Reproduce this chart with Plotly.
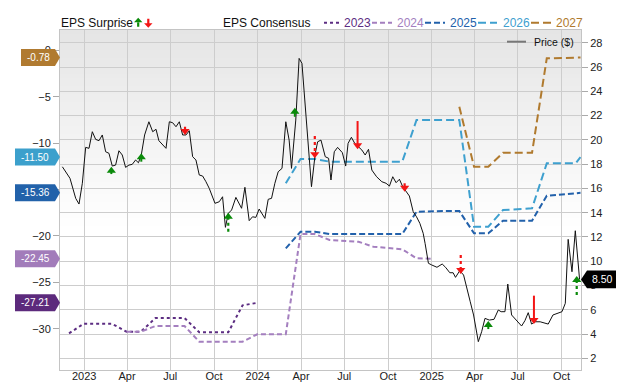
import plotly.graph_objects as go

# ---------------- data ----------------
price_dates = [
    "2022-11-16", "2022-12-02", "2022-12-14", "2022-12-21", "2022-12-28",
    "2023-01-04", "2023-01-11", "2023-01-18", "2023-01-25", "2023-02-01", "2023-02-08",
    "2023-02-15", "2023-02-22", "2023-03-01", "2023-03-08", "2023-03-15", "2023-03-22",
    "2023-03-29", "2023-04-05", "2023-04-12", "2023-04-19", "2023-04-25", "2023-05-01",
    "2023-05-08", "2023-05-17", "2023-05-25", "2023-06-01", "2023-06-07", "2023-06-22",
    "2023-06-29", "2023-07-06", "2023-07-13", "2023-07-20", "2023-07-27", "2023-08-03",
    "2023-08-10", "2023-08-17", "2023-08-24", "2023-08-31", "2023-09-07", "2023-09-14",
    "2023-09-21", "2023-10-03", "2023-10-12", "2023-10-19", "2023-10-25", "2023-10-31",
    "2023-11-07", "2023-11-16", "2023-11-28", "2023-12-05", "2023-12-14", "2023-12-21",
    "2023-12-28", "2024-01-04", "2024-01-16", "2024-01-23", "2024-01-30", "2024-02-06",
    "2024-02-13", "2024-02-21", "2024-02-29", "2024-03-07", "2024-03-12", "2024-03-21",
    "2024-03-28", "2024-04-03", "2024-04-12", "2024-04-23", "2024-05-01", "2024-05-06",
    "2024-05-13", "2024-05-22", "2024-05-29", "2024-06-03", "2024-06-10", "2024-06-17",
    "2024-06-27", "2024-07-04", "2024-07-09", "2024-07-16", "2024-07-23", "2024-07-30",
    "2024-08-07", "2024-08-14", "2024-08-21", "2024-08-28", "2024-09-07", "2024-09-18",
    "2024-09-27", "2024-10-04", "2024-10-11", "2024-10-18", "2024-10-25", "2024-11-01",
    "2024-11-08", "2024-11-15", "2024-11-23", "2024-11-30", "2024-12-07", "2024-12-14",
    "2024-12-18", "2024-12-25", "2025-01-01", "2025-01-12", "2025-01-23", "2025-01-30",
    "2025-02-08", "2025-02-15", "2025-02-20", "2025-03-01", "2025-03-09", "2025-03-16",
    "2025-03-23", "2025-03-30", "2025-04-09", "2025-04-16", "2025-04-23", "2025-05-02",
    "2025-05-12", "2025-05-21", "2025-05-27", "2025-06-04", "2025-06-10", "2025-06-18",
    "2025-06-27", "2025-07-09", "2025-07-16", "2025-07-23", "2025-07-30", "2025-08-06",
    "2025-08-17", "2025-08-25", "2025-09-03", "2025-09-13", "2025-09-21", "2025-10-02",
    "2025-10-09", "2025-10-15", "2025-10-23", "2025-10-30", "2025-11-08",
]
price_values = [
    17.78, 16.83, 15.18, 14.71, 16.42,
    19.38, 19.30, 20.67, 20.04, 19.93, 20.40,
    19.02, 18.89, 17.84, 17.92, 19.10, 18.75,
    17.73, 17.92, 17.98, 18.34, 18.11, 18.75,
    20.40, 21.49, 20.67, 20.87, 19.93, 19.30,
    21.49, 21.41, 21.08, 21.49, 20.40, 20.40,
    20.75, 18.61, 18.34, 17.10, 17.02, 16.55,
    16.00, 14.77, 14.90, 15.31, 12.79, 13.94,
    14.22, 15.26, 14.36, 16.09, 13.34, 13.66,
    13.61, 14.30, 13.53, 15.10, 15.18, 16.42,
    17.37, 17.65, 21.49, 19.98, 17.65, 21.63,
    26.71, 26.30, 21.63, 16.14, 18.89, 19.84,
    19.98, 18.61, 18.48, 16.69, 19.02, 19.38,
    18.94, 17.84, 19.71, 20.21, 19.71, 19.43,
    19.16, 18.75, 19.22, 17.51, 16.96, 16.55,
    16.42, 16.19, 16.96, 16.47, 16.75, 16.14,
    15.72, 15.37, 14.08, 13.66, 13.12, 12.30,
    11.47, 9.83, 9.69, 9.50, 9.77, 9.50,
    9.05, 9.05, 8.67, 9.22, 8.86, 7.63,
    6.66, 5.57, 3.37, 4.19, 5.29, 5.15,
    5.21, 5.98, 5.84, 5.84, 8.12, 5.57,
    5.21, 4.66, 5.10, 5.76, 4.82, 5.01,
    5.01, 4.93, 4.82, 5.57, 5.71, 5.84,
    6.53, 11.80, 9.13, 12.51, 8.50,
]

cons2023_dates = ["2022-11-30", "2022-12-31", "2023-01-31", "2023-02-28", "2023-03-31",
                  "2023-04-30", "2023-05-31", "2023-06-30", "2023-07-31", "2023-08-31",
                  "2023-09-30", "2023-10-31", "2023-11-30", "2023-12-31"]
cons2023 = [-30.50, -29.46, -29.46, -29.46, -30.32, -30.32, -28.85, -28.85, -28.85,
            -30.39, -30.39, -30.39, -27.48, -27.21]

cons2024_dates = ["2023-03-31", "2023-04-30", "2023-05-31", "2023-06-30", "2023-07-31",
                  "2023-08-31", "2023-09-30", "2023-10-31", "2023-11-30", "2023-12-31",
                  "2024-01-31", "2024-02-29", "2024-03-31", "2024-04-30", "2024-05-31",
                  "2024-06-30", "2024-07-31", "2024-08-31", "2024-09-30", "2024-10-31",
                  "2024-11-30", "2024-12-31"]
cons2024 = [-30.32, -30.32, -29.71, -29.71, -29.71, -31.40, -31.40, -31.40, -31.40,
            -30.60, -30.60, -30.60, -19.80, -19.80, -20.44, -20.55, -20.63, -21.16,
            -21.30, -21.44, -22.41, -22.45]

cons2025_dates = ["2024-02-29", "2024-03-31", "2024-04-30", "2024-05-31", "2024-06-30",
                  "2024-07-31", "2024-08-31", "2024-09-30", "2024-10-31", "2024-11-30",
                  "2024-12-31", "2025-01-31", "2025-02-28", "2025-03-31", "2025-04-30",
                  "2025-05-31", "2025-06-30", "2025-07-31", "2025-08-31", "2025-09-30",
                  "2025-10-31", "2025-11-10"]
cons2025 = [-21.34, -19.55, -19.55, -19.80, -19.80, -19.80, -19.80, -19.80, -19.80,
            -17.39, -17.32, -17.32, -17.32, -19.72, -19.72, -18.36, -18.36, -18.36,
            -15.67, -15.55, -15.48, -15.36]

cons2026_dates = ["2024-02-29", "2024-03-31", "2024-04-30", "2024-05-31", "2024-06-30",
                  "2024-07-31", "2024-08-31", "2024-09-30", "2024-10-31", "2024-11-30",
                  "2024-12-31", "2025-01-31", "2025-02-28", "2025-03-31", "2025-04-30",
                  "2025-05-31", "2025-06-30", "2025-07-31", "2025-08-31", "2025-09-30",
                  "2025-10-31", "2025-11-10"]
cons2026 = [-14.33, -11.71, -11.71, -12.00, -12.00, -12.00, -12.00, -12.00, -12.00,
            -7.51, -7.51, -7.51, -7.51, -19.01, -19.01, -17.21, -17.15, -17.03,
            -12.18, -12.18, -12.18, -11.50]

cons2027_dates = ["2025-02-28", "2025-03-31", "2025-04-30", "2025-05-31", "2025-06-30",
                  "2025-07-31", "2025-08-31", "2025-09-30", "2025-10-31", "2025-11-10"]
cons2027 = [-6.08, -12.54, -12.54, -11.03, -11.03, -11.03, -0.86, -0.80, -0.80, -0.78]

cons_years = ["2023", "2024", "2025", "2026", "2027"]

surprise_dates = ["2023-02-27", "2023-05-01", "2023-08-01", "2023-10-31", "2024-03-19",
                  "2024-04-30", "2024-07-29", "2024-11-05", "2025-03-03", "2025-04-30",
                  "2025-08-04", "2025-11-02"]
surprise_beat = [True, True, False, True, True, False, False, False, False, True, False, True]
surprise_tail = [17.18, 18.20, 21.08, 12.43, 21.90, 20.31, 21.55, 16.42, 10.51, 4.41, 7.16, 7.21]
surprise_tip = [17.78, 18.89, 20.40, 14.00, 22.64, 18.48, 19.22, 15.72, 8.94, 5.07, 4.82, 8.78]
surprise_estimated = [False, False, True, True, False, True, False, True, True, False, False, True]

x_ticks = ["2023-01-01", "2023-04-01", "2023-07-01", "2023-10-01", "2024-01-01",
           "2024-04-01", "2024-07-01", "2024-10-01", "2025-01-01", "2025-04-01",
           "2025-07-01", "2025-10-01"]
x_ticklabels = ["2023", "Apr", "Jul", "Oct", "2024", "Apr", "Jul", "Oct", "2025", "Apr",
                "Jul", "Oct"]
left_ticks = [-30, -25, -20, -15, -10, -5, 0]
right_ticks = [2, 4, 6, 8, 10, 12, 14, 16, 18, 20, 22, 24, 26, 28]

# ---------------- styling / layout ----------------
W, H = 640, 382
ML, MR, MT, MB = 60, 59, 30, 12
PW, PH = W - ML - MR, H - MT - MB
X_RANGE = ["2022-11-11", "2025-11-11"]
Y_RANGE = [-34.45, 2.19]
Y2_RANGE = [1.036, 29.05]
ppu2 = PH / (Y2_RANGE[1] - Y2_RANGE[0])
FONT = "Liberation Sans, Arial, Helvetica, sans-serif"

cons_colors = ["#5c2d82", "#a47fbf", "#2261ab", "#3ea0cf", "#b07a2e"]
cons_dash = ["dot", "5px,3px", "6px,3px", "8px,4px", "8px,4px"]
label_colors = ["#5c2a7c", "#a27cba", "#2262aa", "#3ca0cc", "#b07a30"]
GREEN, RED = "#0a8a0a", "#f31515"


def px2x(px):
    return (px - ML) / PW


def py2y(py):
    return 1 - (py - MT) / PH


fig = go.Figure()

cons_all = [(cons2023_dates, cons2023), (cons2024_dates, cons2024), (cons2025_dates, cons2025),
            (cons2026_dates, cons2026), (cons2027_dates, cons2027)]
for (d, v), c, dash in zip(cons_all, cons_colors, cons_dash):
    fig.add_trace(go.Scatter(x=d, y=v, mode="lines", yaxis="y",
                             line=dict(color=c, width=2, dash=dash),
                             hoverinfo="skip", showlegend=False))

fig.add_trace(go.Scatter(x=price_dates, y=price_values, mode="lines", yaxis="y2",
                         line=dict(color="#111111", width=1), hoverinfo="skip",
                         showlegend=False))

# surprise arrows: shafts + heads
HEAD = 8
off = (HEAD / 2) / ppu2
for beat in (True, False):
    for est in (False, True):
        xs, ys = [], []
        for d, b, t0, t1, e in zip(surprise_dates, surprise_beat, surprise_tail, surprise_tip,
                                   surprise_estimated):
            if b != beat or e != est:
                continue
            end = t1 - off if b else t1 + off
            xs += [d, d, None]
            ys += [t0, end, None]
        if xs:
            fig.add_trace(go.Scatter(x=xs, y=ys, mode="lines", yaxis="y2",
                                     line=dict(color=GREEN if beat else RED,
                                               width=2.2 if est else 2,
                                               dash="dot" if est else "solid"),
                                     hoverinfo="skip", showlegend=False))
    hx, hy = [], []
    for d, b, t1 in zip(surprise_dates, surprise_beat, surprise_tip):
        if b == beat:
            hx.append(d)
            hy.append(t1 - off if b else t1 + off)
    fig.add_trace(go.Scatter(x=hx, y=hy, mode="markers", yaxis="y2",
                             marker=dict(symbol="triangle-up" if beat else "triangle-down",
                                         size=HEAD, color=GREEN if beat else RED,
                                         line=dict(width=0)),
                             hoverinfo="skip", showlegend=False))

shapes = []
annotations = []

# plot background gradient
n = 50
gfrac = 200 / PH
for i in range(n):
    y1 = 1 - i * gfrac / n
    y0 = 1 - (i + 1) * gfrac / n - 0.002
    v = int(round(229 + 26 * (i + 0.5) / n))
    shapes.append(dict(type="rect", xref="paper", yref="paper", x0=0, x1=1, y0=max(y0, 0),
                       y1=y1, fillcolor=f"rgb({v},{v},{v})", line=dict(width=0),
                       layer="below"))

# left consensus value labels
for (d, v), c in zip(cons_all, label_colors):
    val = v[-1]
    txt = f"{val:.2f}"
    w = 6 * len(txt) + 9
    shapes.append(dict(type="path", xref="paper", yref="y", xsizemode="pixel",
                       ysizemode="pixel", xanchor=0, yanchor=val,
                       path=f"M 0 0 L -5 8.5 L -{w} 8.5 L -{w} -8.5 L -5 -8.5 Z",
                       fillcolor=c, line=dict(width=0), layer="above"))
    annotations.append(dict(xref="paper", yref="y", x=0, y=val, text=txt, showarrow=False,
                            xanchor="center", yanchor="middle", xshift=-(w + 5) / 2,
                            font=dict(color="white", size=10, family=FONT)))

# right price label
last_price = price_values[-1]
shapes.append(dict(type="path", xref="paper", yref="y2", xsizemode="pixel", ysizemode="pixel",
                   xanchor=1, yanchor=last_price,
                   path="M 0 0 L 6 8.8 L 35 8.8 L 35 -8.8 L 6 -8.8 Z",
                   fillcolor="#000000", line=dict(width=0), layer="above"))
annotations.append(dict(xref="paper", yref="y2", x=1, y=last_price, text=f"{last_price:.2f}",
                        showarrow=False, xanchor="center", yanchor="middle", xshift=21,
                        font=dict(color="white", size=10.5, family=FONT)))

# top legend
ly = py2y(22.7)
annotations.append(dict(xref="paper", yref="paper", x=px2x(59), y=ly, text="EPS Surprise",
                        showarrow=False, xanchor="left", yanchor="middle",
                        font=dict(size=12, color="#111", family=FONT)))
shapes.append(dict(type="path", xref="paper", yref="paper", xsizemode="pixel",
                   ysizemode="pixel", xanchor=px2x(138.2), yanchor=ly,
                   path="M -4.2 0.5 L 4.2 0.5 L 0 5 Z M -1.1 0.6 L 1.1 0.6 L 1.1 -4 L -1.1 -4 Z",
                   fillcolor=GREEN, line=dict(width=0)))
shapes.append(dict(type="path", xref="paper", yref="paper", xsizemode="pixel",
                   ysizemode="pixel", xanchor=px2x(148.3), yanchor=ly,
                   path="M -4.2 -0.5 L 4.2 -0.5 L 0 -5 Z M -1.1 -0.6 L 1.1 -0.6 L 1.1 4 L -1.1 4 Z",
                   fillcolor=RED, line=dict(width=0)))
annotations.append(dict(xref="paper", yref="paper", x=px2x(221), y=ly, text="EPS Consensus",
                        showarrow=False, xanchor="left", yanchor="middle",
                        font=dict(size=12, color="#111", family=FONT)))
sample_pos = [(324, 339, 341.5), (372, 392, 395), (425, 445, 448), (478, 497, 501),
              (531, 551, 554)]
for (s0, s1, tx), c, dash, yr in zip(sample_pos, cons_colors, cons_dash, cons_years):
    shapes.append(dict(type="line", xref="paper", yref="paper", x0=px2x(s0), x1=px2x(s1),
                       y0=ly, y1=ly, line=dict(color=c, width=2, dash=dash)))
    annotations.append(dict(xref="paper", yref="paper", x=px2x(tx), y=ly, text=yr,
                            showarrow=False, xanchor="left", yanchor="middle",
                            font=dict(size=12, color=c, family=FONT)))

# price legend inside plot
py_ = py2y(41.7)
shapes.append(dict(type="line", xref="paper", yref="paper", x0=px2x(507), x1=px2x(526),
                   y0=py_, y1=py_, line=dict(color="#777777", width=2)))
annotations.append(dict(xref="paper", yref="paper", x=px2x(532), y=py_, text="Price ($)",
                        showarrow=False, xanchor="left", yanchor="middle",
                        font=dict(size=10.5, color="#111", family=FONT)))

fig.update_layout(
    width=W, height=H, margin=dict(l=ML, r=MR, t=MT, b=MB, pad=0, autoexpand=False),
    paper_bgcolor="white", plot_bgcolor="white", showlegend=False,
    font=dict(family=FONT, size=11, color="#222"),
    xaxis=dict(type="date", range=X_RANGE, tickvals=x_ticks, ticktext=x_ticklabels,
               showgrid=True, gridcolor="#cdcdcd", gridwidth=1, zeroline=False,
               showline=True, linecolor="#c4c4c4", linewidth=1, mirror=True, ticks="",
               automargin=False, ticklabelstandoff=-4, tickfont=dict(size=11, color="#222")),
    yaxis=dict(range=Y_RANGE, tickvals=left_ticks, showgrid=False, zeroline=False,
               ticks="outside", ticklen=6, tickcolor="#aaaaaa", showline=True,
               automargin=False, linecolor="#c4c4c4", tickfont=dict(size=11, color="#222")),
    yaxis2=dict(range=Y2_RANGE, tickvals=right_ticks, overlaying="y", side="right",
                showgrid=True, gridcolor="#cdcdcd", zeroline=False, ticks="outside",
                ticklen=6, tickcolor="#aaaaaa", showline=True, linecolor="#c4c4c4",
                automargin=False, tickfont=dict(size=11, color="#222")),
    shapes=shapes, annotations=annotations,
)

fig.write_html("out.html")
